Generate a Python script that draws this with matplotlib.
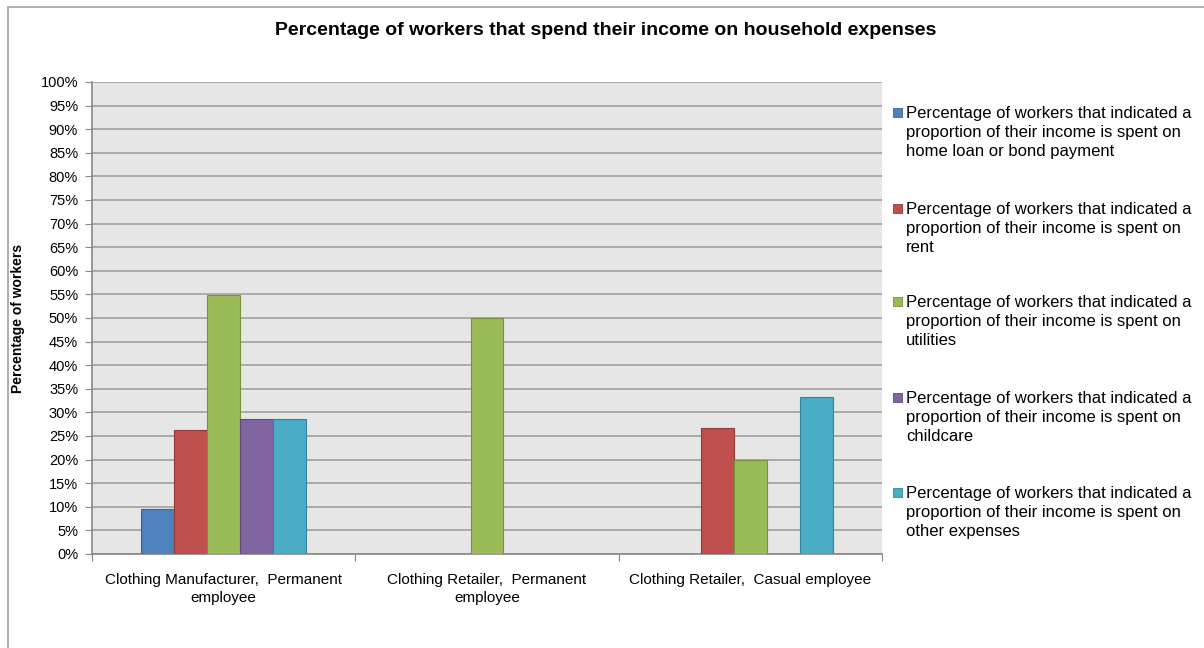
import numpy as np
import matplotlib.pyplot as plt
from matplotlib.patches import Rectangle

plt.rcParams['font.family'] = ['Liberation Sans', 'DejaVu Sans']

# === Data ===
categories = ['Clothing Manufacturer,  Permanent\nemployee',
              'Clothing Retailer,  Permanent\nemployee',
              'Clothing Retailer,  Casual employee']
series_names = [
    'Percentage of workers that indicated a\nproportion of their income is spent on\nhome loan or bond payment',
    'Percentage of workers that indicated a\nproportion of their income is spent on\nrent',
    'Percentage of workers that indicated a\nproportion of their income is spent on\nutilities',
    'Percentage of workers that indicated a\nproportion of their income is spent on\nchildcare',
    'Percentage of workers that indicated a\nproportion of their income is spent on\nother expenses',
]
home_loan = [9.5, 0, 0]
rent = [26.2, 0, 26.7]
utilities = [54.8, 50.0, 20.0]
childcare = [28.6, 0, 0]
other = [28.6, 0, 33.3]
values = [home_loan, rent, utilities, childcare, other]

colors = ['#4F81BD', '#C0504D', '#9BBB59', '#8064A2', '#4BACC6']
edges = ['#3A6496', '#8E3B39', '#76923C', '#5F4A7A', '#31869B']

# === Figure ===
fig = plt.figure(figsize=(12.04, 6.48), dpi=100)
ax = fig.add_axes([0.0764, 0.1451, 0.6562, 0.7284])
ax.set_facecolor('#E6E6E6')

x = np.arange(len(categories))
w = 0.125
for i, (vals, c, ec) in enumerate(zip(values, colors, edges)):
    vals = np.array(vals, dtype=float)
    keep = vals > 0
    ax.bar(x[keep] + (i - 2) * w, vals[keep], width=w, color=c,
           edgecolor=ec, linewidth=0.8, zorder=3)

ax.set_xlim(-0.5, 2.5)
ax.set_ylim(0, 100)
ax.set_yticks(np.arange(0, 101, 5))
ax.set_yticklabels([f'{v}%' for v in range(0, 101, 5)], fontsize=10.5)
ax.yaxis.grid(True, color='#A0A0A0', linewidth=1.2, zorder=0)
ax.set_axisbelow(True)

# category labels at centres, tick marks at boundaries
ax.set_xticks([-0.5, 0.5, 1.5, 2.5])
ax.set_xticklabels([])
ax.set_xticks(x, minor=True)
ax.set_xticklabels(categories, minor=True, fontsize=11, linespacing=1.3)
ax.tick_params(axis='x', which='minor', length=0, pad=14)
ax.tick_params(axis='x', which='major', length=5, color='#888888')
ax.tick_params(axis='y', length=5, color='#888888', pad=5)

for s in ['top', 'right']:
    ax.spines[s].set_visible(False)
for s in ['left', 'bottom']:
    ax.spines[s].set_color('#888888')
    ax.spines[s].set_linewidth(1.2)

ax.set_ylabel('Percentage of workers', fontsize=10, fontweight='bold')
ax.yaxis.set_label_coords(-0.085, 0.5)

fig.text(0.503, 0.953, 'Percentage of workers that spend their income on household expenses',
         ha='center', va='center', fontsize=14, fontweight='bold')

# === Legend ===
leg_y = [112, 208, 301, 397, 492]
for name, c, ec, yp in zip(series_names, colors, edges, leg_y):
    fig.patches.append(Rectangle((893 / 1204, 1 - (yp + 5) / 648), 9 / 1204, 9 / 648,
                                 transform=fig.transFigure, facecolor=c,
                                 edgecolor=ec, linewidth=0.6))
    fig.text(906 / 1204, 1 - (yp - 6) / 648, name, ha='left', va='top',
             fontsize=12, linespacing=1.32)

# outer chart frame
fig.patches.append(Rectangle((8 / 1204, -0.01), 1.0, 1 - 7 / 648 + 0.01,
                             transform=fig.transFigure, fill=False,
                             edgecolor='#A0A0A0', linewidth=1.2))

fig.savefig('out.png', dpi=100)
